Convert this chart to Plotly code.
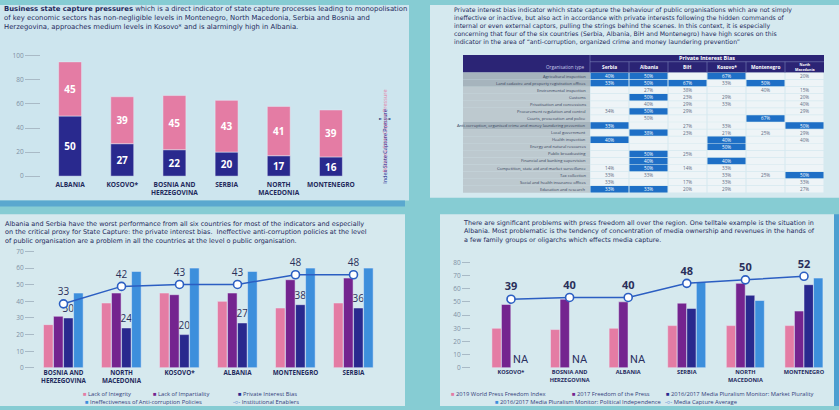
import plotly.graph_objects as go

W, H = 839, 410


def px(x):
    return x / W


def py(y):
    return 1 - y / H


FONT = "Open Sans"
PFONT = "DejaVu Sans"
TXT = "#1f2a5c"
TICK = "#7f90a4"

# ---------------- data: top-left (state capture pressure) ----------------
tl_countries = ["ALBANIA", "KOSOVO*", "BOSNIA AND<br>HERZEGOVINA", "SERBIA",
                "NORTH<br>MACEDONIA", "MONTENEGRO"]
tl_index = [50, 27, 22, 20, 17, 16]
tl_business = [45, 39, 45, 43, 41, 39]
tl_ticks = [0, 20, 40, 60, 80, 100]

# ---------------- data: bottom-left (state capture indicators) ----------------
bl_countries = ["BOSNIA AND<br>HERZEGOVINA", "NORTH<br>MACEDONIA", "KOSOVO*",
                "ALBANIA", "MONTENEGRO", "SERBIA"]
bl_integrity = [26, 39, 45, 40, 36, 39]
bl_impartiality = [31, 45, 44, 45, 53, 54]
bl_private_bias = [30, 24, 20, 27, 38, 36]
bl_anticorruption = [45, 58, 60, 58, 60, 60]
bl_enablers = [33, 42, 43, 43, 48, 48]

# ---------------- data: bottom-right (media capture) ----------------
br_countries = ["KOSOVO*", "BOSNIA AND<br>HERZEGOVINA", "ALBANIA", "SERBIA",
                "NORTH<br>MACEDONIA", "MONTENEGRO"]
br_wpfi = [30, 29, 30, 32, 32, 32]
br_fotp = [48, 52, 50, 49, 64, 43]
br_market = [None, None, None, 45, 55, 63]
br_political = [None, None, None, 65, 51, 68]
br_capture = [39, 40, 40, 48, 50, 52]

# ---------------- data: top-right table (private interest bias) ----------------
tbl_rows = [
    "Agricultural inspection",
    "Land cadastre and property registration offices",
    "Environmental inspection",
    "Customs",
    "Privatisation and concessions",
    "Procurement regulation and control",
    "Courts, prosecution and police",
    "Anti-corruption, organised crime and money laundering prevention",
    "Local government",
    "Health inspection",
    "Energy and natural resources",
    "Public broadcasting",
    "Financial and banking supervision",
    "Competition, state aid and market surveillance",
    "Tax collection",
    "Social and health insurance offices",
    "Education and research",
]
tbl_cols = ["Serbia", "Albania", "BiH", "Kosovo*", "Montenegro", "North<br>Macedonia"]
tbl_serbia = ["40%", "33%", "", "", "", "34%", "", "33%", "", "40%", "", "", "", "14%", "33%", "33%", "33%"]
tbl_albania = ["50%", "50%", "27%", "50%", "40%", "50%", "50%", "", "38%", "", "", "50%", "40%", "50%", "33%", "", "33%"]
tbl_bih = ["", "67%", "38%", "23%", "29%", "29%", "", "27%", "23%", "", "", "25%", "", "14%", "", "17%", "20%"]
tbl_kosovo = ["67%", "33%", "", "29%", "33%", "", "", "33%", "21%", "40%", "50%", "", "40%", "33%", "33%", "33%", "29%"]
tbl_montenegro = ["", "50%", "40%", "", "", "", "67%", "", "25%", "", "", "", "", "", "25%", "", ""]
tbl_macedonia = ["20%", "", "15%", "20%", "40%", "29%", "", "50%", "29%", "40%", "", "", "", "", "50%", "33%", "27%"]
tbl_high = {
    "Serbia": [0, 1, 7, 9, 16],
    "Albania": [0, 1, 3, 5, 8, 11, 12, 13, 16],
    "BiH": [1],
    "Kosovo*": [0, 9, 10, 12],
    "Montenegro": [1, 6],
    "North<br>Macedonia": [7, 14],
}

PINK = "#e47ca4"
NAVY = "#29298e"
PURPLE = "#74248f"
LBLUE = "#3d8fdc"
LINE = "#2b5ec2"

fig = go.Figure()

# ---- top-left stacked bars
for vals, base, col, name in [(tl_index, None, NAVY, "Index State Capture Pressure"),
                              (tl_business, tl_index, PINK, "Business State Capture Pressure")]:
    fig.add_trace(go.Bar(
        x=tl_countries, y=vals, base=base, marker_color=col, width=0.44,
        text=vals, texttemplate="<b>%{text}</b>", textposition="inside",
        insidetextanchor="middle", textangle=0, constraintext="none",
        textfont=dict(color="white", size=10, family=FONT),
        xaxis="x", yaxis="y", showlegend=False, name=name))

# ---- bottom-left grouped bars
bw = 0.165
bl_series = [(bl_integrity, PINK, "Lack of Integrity"),
             (bl_impartiality, PURPLE, "Lack of Impartiality"),
             (bl_private_bias, NAVY, "Private Interest Bias"),
             (bl_anticorruption, LBLUE, "Ineffectiveness of Anti-corruption Policies")]
for i, (vals, col, name) in enumerate(bl_series):
    kw = {}
    if name == "Private Interest Bias":
        kw = dict(text=vals, textposition="outside", textangle=0, constraintext="none",
                  textfont=dict(color="#2a2f5a", size=10, family=FONT))
    fig.add_trace(go.Bar(x=bl_countries, y=vals, marker_color=col, width=bw,
                         offset=-0.345 + i * 0.173, xaxis="x2", yaxis="y2",
                         showlegend=False, name=name, cliponaxis=False, **kw))
fig.add_trace(go.Scatter(
    x=bl_countries, y=bl_enablers, mode="lines+markers+text", text=bl_enablers,
    textposition="top center", textfont=dict(color="#2a2f5a", size=10, family=FONT),
    line=dict(color=LINE, width=1.5),
    marker=dict(symbol="circle", size=8, color="white", line=dict(color=LINE, width=1.6)),
    xaxis="x2", yaxis="y3", showlegend=False, name="Institutional Enablers", cliponaxis=False))

# ---- bottom-right grouped bars
bw2 = 0.16
br_series = [(br_wpfi, PINK, "2019 World Press Freedom Index"),
             (br_fotp, PURPLE, "2017 Freedom of the Press"),
             (br_market, NAVY, "2016/2017 Media Pluralism Monitor: Market Plurality"),
             (br_political, LBLUE, "2016/2017 Media Pluralism Monitor: Political Independence")]
for i, (vals, col, name) in enumerate(br_series):
    fig.add_trace(go.Bar(x=br_countries, y=vals, marker_color=col, width=bw2,
                         offset=-0.326 + i * 0.163, xaxis="x3", yaxis="y4",
                         showlegend=False, name=name))
fig.add_trace(go.Scatter(
    x=br_countries, y=br_capture, mode="lines+markers+text", text=br_capture,
    texttemplate="<b>%{text}</b>",
    textposition="top center", textfont=dict(color="#2a2f5a", size=11, family=FONT),
    line=dict(color=LINE, width=1.5),
    marker=dict(symbol="circle", size=8, color="white", line=dict(color=LINE, width=1.6)),
    xaxis="x3", yaxis="y5", showlegend=False, name="Media Capture Average", cliponaxis=False))

annotations = []
for c, v in zip(br_countries, br_market):
    if v is None:
        annotations.append(dict(xref="x3", yref="y4", x=c, y=0, text="NA", showarrow=False,
                                xanchor="center", yanchor="bottom", xshift=10, yshift=1,
                                borderpad=0,
                                font=dict(size=11, color="#2a3060", family="Roboto")))

# ---------------- panel backgrounds
shapes = []


def rect(x0, y0, x1, y1, color, layer="below"):
    shapes.append(dict(type="rect", xref="paper", yref="paper", x0=px(x0), x1=px(x1),
                       y0=py(y1), y1=py(y0), fillcolor=color, line=dict(width=0), layer=layer))


rect(0, 0, 409, 200, "#cde5ee")
rect(430, 0, 839, 197, "#d5e9ef")
rect(0, 214, 405, 410, "#d6e9ee")
rect(440, 214, 834, 410, "#d6e9ee")
rect(834, 214, 839, 410, "#4d9fd0")
rect(0, 200, 405, 206, "#5aa8cf")

# ---------------- table (built from the table lists)
tbl_values = [tbl_serbia, tbl_albania, tbl_bih, tbl_kosovo, tbl_montenegro, tbl_macedonia]
col_edges = [463, 590, 629, 668, 707, 746, 785, 824]
head_top, head_bot = 51, 69
row_h = (192 - head_bot) / len(tbl_rows)

rect(col_edges[0], head_top, col_edges[-1], head_bot, "#2b2475")
for xe in col_edges[1:-1]:
    shapes.append(dict(type="line", xref="paper", yref="paper", x0=px(xe), x1=px(xe),
                       y0=py(head_bot), y1=py(58 if xe != col_edges[1] else head_top),
                       line=dict(color="#8a94c4", width=0.5), layer="below"))
shapes.append(dict(type="line", xref="paper", yref="paper", x0=px(col_edges[1]), x1=px(col_edges[-1]),
                   y0=py(58), y1=py(58), line=dict(color="#8a94c4", width=0.5), layer="below"))


def tbl_text(x, y, text, size, color, anchor="center", family=FONT):
    annotations.append(dict(xref="paper", yref="paper", x=px(x), y=py(y), text=text,
                            showarrow=False, xanchor=anchor, yanchor="middle", borderpad=0,
                            font=dict(size=size, color=color, family=family)))


tbl_text((col_edges[1] + col_edges[-1]) / 2, 54.5, "<b>Private Interest Bias</b>", 5.5, "white")
tbl_text(col_edges[1] - 4, 63.5, "Organisation type", 4.6, "#c9cdea", "right")
for c, name in enumerate(tbl_cols):
    cx = (col_edges[c + 1] + col_edges[c + 2]) / 2
    if "<br>" in name:
        tbl_text(cx, 63.5, "<b>" + name + "</b>", 3.6, "white")
    else:
        tbl_text(cx, 63.5, "<b>" + name + "</b>", 4.8, "white")

for r, label in enumerate(tbl_rows):
    y0 = head_bot + r * row_h
    y1 = y0 + row_h
    ym = (y0 + y1) / 2
    lf = "#a6b4bd" if r in (0, 1, 7) else "#bdc9cf"
    rect(col_edges[0], y0, col_edges[1], y1, lf)
    tbl_text(col_edges[1] - 3, ym, label, 4.1, "#34405a", "right")
    for c, name in enumerate(tbl_cols):
        hi = r in tbl_high[name]
        rect(col_edges[c + 1] + 0.5, y0 + 0.35, col_edges[c + 2] - 0.5, y1 - 0.35,
             "#1e6fc6" if hi else "#eef4f7")
        val = tbl_values[c][r]
        if val:
            cx = (col_edges[c + 1] + col_edges[c + 2]) / 2
            tbl_text(cx, ym, val, 4.6, "white" if hi else "#5b6b82")


# ---------------- paragraph texts
def para(x, y, lines, size, color=TXT):
    annotations.append(dict(xref="paper", yref="paper", x=px(x), y=py(y), text="<br>".join(lines),
                            showarrow=False, xanchor="left", yanchor="top", align="left",
                            borderpad=0, font=dict(size=size, color=color, family=PFONT)))


para(3, -1.5, ["<b>Business state capture pressures</b> which is a direct indicator of state capture processes leading to monopolisation",
               "of key economic sectors has non-negligible levels in Montenegro, North Macedonia, Serbia and Bosnia and",
               "Herzegovina, approaches medium levels in Kosovo* and is alarmingly high in Albania."], 6.85)

para(453, 0.5, ["Private interest bias indicator which state capture the behaviour of public organisations which are not simply",
                "ineffective or inactive, but also act in accordance with private interests following the hidden commands of",
                "internal or even external captors, pulling the strings behind the scenes. In this context, it is especially",
                "concerning that four of the six countries (Serbia, Albania, BiH and Montenegro) have high scores on this",
                "indicator in the area of “anti-corruption, organized crime and money laundering prevention”"], 6.2)

para(4, 219, ["Albania and Serbia have the worst performance from all six countries for most of the indicators and especially",
              "on the critical proxy for State Capture: the private interest bias.  Ineffective anti-corruption policies at the level",
              "of public organisation are a problem in all the countries at the level o public organisation."], 6.5)

para(462, 218, ["There are significant problems with press freedom all over the region. One telltale example is the situation in",
                "Albania. Most problematic is the tendency of concentration of media ownership and revenues in the hands of",
                "a few family groups or oligarchs which effects media capture."], 6.4)

# vertical legend of top-left chart
annotations.append(dict(xref="paper", yref="paper", x=px(385), y=py(86), text="Business State Capture Pressure",
                        textangle=-90, showarrow=False, borderpad=0,
                        font=dict(size=5.5, color=PINK, family=FONT)))
annotations.append(dict(xref="paper", yref="paper", x=px(385), y=py(145), text="Index State Capture Pressure",
                        textangle=-90, showarrow=False, borderpad=0,
                        font=dict(size=5.5, color=NAVY, family=FONT)))
annotations.append(dict(xref="paper", yref="paper", x=px(385), y=py(112), text="►&nbsp;&nbsp;&nbsp;&nbsp;◄",
                        showarrow=False, borderpad=0, font=dict(size=4, color="#33407a", family=PFONT)))


# legends (manual rows)
def leg(x, y, color, text, sym="■"):
    annotations.append(dict(xref="paper", yref="paper", x=px(x), y=py(y),
                            text=f'<span style="color:{color}">{sym}</span> {text}',
                            showarrow=False, xanchor="left", yanchor="middle", borderpad=0,
                            font=dict(size=5.8, color="#33407a", family=FONT)))


leg(82, 398, PINK, "Lack of Integrity")
leg(152, 398, PURPLE, "Lack of Impartiality")
leg(237, 398, NAVY, "Private Interest Bias")
leg(84, 406.3, LBLUE, "Ineffectiveness of Anti-corruption Policies")
leg(232, 406.3, LINE, "Institutional Enablers", sym="-○-")

leg(450, 398, PINK, "2019 World Press Freedom Index")
leg(571, 398, PURPLE, "2017 Freedom of the Press")
leg(665, 398, NAVY, "2016/2017 Media Pluralism Monitor: Market Plurality")
leg(494, 406.3, LBLUE, "2016/2017 Media Pluralism Monitor: Political Independence")
leg(664, 406.3, LINE, "Media Capture Average", sym="-○-")

cat_font = dict(size=6.3, color=TXT, family=FONT)
ytick_font = dict(size=6.5, color=TICK, family=FONT)

fig.update_layout(
    width=W, height=H, margin=dict(l=0, r=0, t=0, b=0),
    paper_bgcolor="#86ccd3", plot_bgcolor="rgba(0,0,0,0)",
    barmode="overlay", showlegend=False,
    font=dict(family=FONT, color=TXT),
    shapes=shapes, annotations=annotations,
    xaxis=dict(domain=[px(44), px(357)], anchor="y", type="category", showgrid=False,
               showline=False, ticks="", tickfont=dict(size=6.6, color=TXT, family=FONT),
               ticklabelstandoff=3, tickprefix="<b>", ticksuffix="</b>"),
    yaxis=dict(domain=[py(175), py(52)], range=[0, 100], tickvals=tl_ticks, showgrid=False,
               zeroline=False, showline=False, anchor="free", position=px(40),
               ticks="outside", ticklen=15, tickcolor="#a9bac6", tickfont=ytick_font),
    xaxis2=dict(domain=[px(34.5), px(382.5)], anchor="y2", type="category", showgrid=False,
                showline=False, ticks="", tickfont=cat_font, tickprefix="<b>", ticksuffix="</b>"),
    yaxis2=dict(domain=[py(371), py(252)], range=[0, 70], dtick=10, showgrid=False,
                zeroline=False, showline=False, anchor="free", position=px(34),
                ticks="outside", ticklen=9, tickcolor="#a9bac6", tickfont=ytick_font),
    yaxis3=dict(overlaying="y2", anchor="x2", range=[0, 60], visible=False),
    xaxis3=dict(domain=[px(481.7), px(833.3)], anchor="y4", type="category", showgrid=False,
                showline=False, ticks="", tickfont=dict(size=5.6, color=TXT, family=FONT),
                tickprefix="<b>", ticksuffix="</b>"),
    yaxis4=dict(domain=[py(371), py(263)], range=[0, 80], dtick=10, showgrid=False,
                zeroline=False, showline=False, anchor="free", position=px(470),
                ticks="outside", ticklen=8, tickcolor="#a9bac6", tickfont=ytick_font),
    yaxis5=dict(overlaying="y4", anchor="x3", range=[0, 60], visible=False),
)

fig.write_html("out.html", config={"displayModeBar": False},
               post_script="document.body.style.margin='0';document.body.style.overflow='hidden';")
